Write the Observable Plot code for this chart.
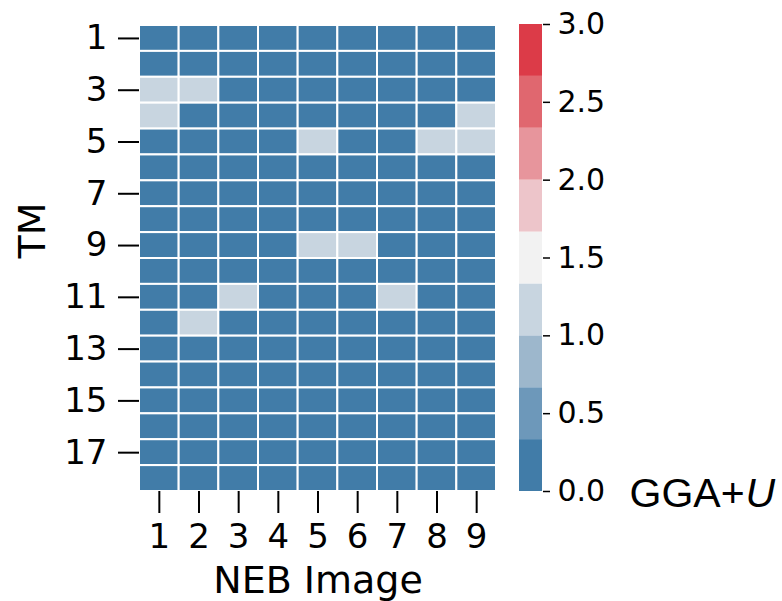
<!DOCTYPE html>
<html>
<head>
<meta charset="utf-8">
<script src="https://cdn.jsdelivr.net/npm/d3@7"></script>
<script src="https://cdn.jsdelivr.net/npm/@observablehq/plot@0.6"></script>
<style>
  html, body { margin: 0; padding: 0; background: #fff; }
  #wrap { position: relative; width: 782px; height: 601px; font-family: "DejaVu Sans", sans-serif; }
  #wrap > svg { position: absolute; left: 0; top: 0; }
</style>
</head>
<body>
<div id="wrap"></div>
<script>
// NEB images (columns) and TM rows
const nebImages = [1, 2, 3, 4, 5, 6, 7, 8, 9];
const tmRows = d3.range(1, 19);
// values per TM row (GGA+U), one entry per NEB image
const values = [
  [0,0,0,0,0,0,0,0,0],
  [0,0,0,0,0,0,0,0,0],
  [1,1,0,0,0,0,0,0,0],
  [1,0,0,0,0,0,0,0,1],
  [0,0,0,0,1,0,0,1,1],
  [0,0,0,0,0,0,0,0,0],
  [0,0,0,0,0,0,0,0,0],
  [0,0,0,0,0,0,0,0,0],
  [0,0,0,0,1,1,0,0,0],
  [0,0,0,0,0,0,0,0,0],
  [0,0,1,0,0,0,1,0,0],
  [0,1,0,0,0,0,0,0,0],
  [0,0,0,0,0,0,0,0,0],
  [0,0,0,0,0,0,0,0,0],
  [0,0,0,0,0,0,0,0,0],
  [0,0,0,0,0,0,0,0,0],
  [0,0,0,0,0,0,0,0,0],
  [0,0,0,0,0,0,0,0,0]
];
const yTicks = [1, 3, 5, 7, 9, 11, 13, 15, 17];
const cbTicks = [0, 0.5, 1.0, 1.5, 2.0, 2.5, 3.0];
const binEdges = [0, 1/3, 2/3, 1, 4/3, 5/3, 2, 7/3, 8/3, 3];
const thresholds = [0.333, 0.667, 1.0, 1.333, 1.667, 2.0, 2.333, 2.667];
const palette = ["#417ca8", "#6d98ba", "#9db7cc", "#c8d5e0", "#f2f2f2", "#edc5ca", "#e7959c", "#e0676f", "#dc3b48"];
const xLabel = "NEB Image";
const yLabel = "TM";
const cbLabelMain = "GGA+";
const cbLabelItalic = "U";

const cells = [];
tmRows.forEach((tm, i) => nebImages.forEach((img, j) => cells.push({tm, img, v: values[i][j]})));
const bins = binEdges.slice(0, -1).map((lo, i) => ({lo, hi: binEdges[i + 1], mid: (lo + binEdges[i + 1]) / 2}));

const colorOpts = {type: "threshold", domain: thresholds, range: palette};
const font = "DejaVu Sans";

const main = Plot.plot({
  width: 782, height: 601,
  marginLeft: 139, marginRight: 286, marginTop: 25, marginBottom: 110,
  style: {fontFamily: font, background: "transparent", color: "#000"},
  x: {type: "band", domain: nebImages, padding: 0, round: false},
  y: {type: "band", domain: tmRows, padding: 0, round: false},
  color: colorOpts,
  marks: [
    Plot.cell(cells, {x: "img", y: "tm", fill: "v", stroke: "white", strokeWidth: 2}),
    Plot.axisY({ticks: yTicks, tickSize: 21, tickPadding: 11, fontSize: 34, strokeWidth: 2, label: null}),
    Plot.axisX({tickSize: 22, tickPadding: 10, fontSize: 34, strokeWidth: 2, label: null}),
    Plot.text([xLabel], {frameAnchor: "bottom", lineAnchor: "middle", dy: 89, fontSize: 38, fill: "#000"}),
    Plot.text([yLabel], {frameAnchor: "left", lineAnchor: "middle", dx: -107, rotate: -90, fontSize: 38, fill: "#000"}),
    Plot.text([cbLabelMain], {frameAnchor: "bottom-right", lineAnchor: "middle", dx: 133, dy: 2, textAnchor: "start", fontSize: 41, fontFamily: "Liberation Sans", fill: "#000"}),
    Plot.text([cbLabelItalic], {frameAnchor: "bottom-right", lineAnchor: "middle", dx: 249, dy: 2, textAnchor: "start", fontSize: 41, fontFamily: "Liberation Sans", fontStyle: "italic", fill: "#000"})
  ]
});

const cbar = Plot.plot({
  width: 782, height: 601,
  marginLeft: 519, marginRight: 240, marginTop: 24, marginBottom: 110,
  style: {fontFamily: font, background: "transparent", color: "#000"},
  y: {domain: [0, 3]},
  color: colorOpts,
  marks: [
    Plot.rect(bins, {y1: "lo", y2: "hi", fill: "mid"}),
    Plot.axisY({anchor: "right", ticks: cbTicks, tickFormat: d3.format(".1f"), tickSize: 7, tickPadding: 8, fontSize: 30, strokeWidth: 1.5, label: null})
  ]
});

const wrap = document.getElementById("wrap");
wrap.appendChild(main);
wrap.appendChild(cbar);
</script>
</body>
</html>
